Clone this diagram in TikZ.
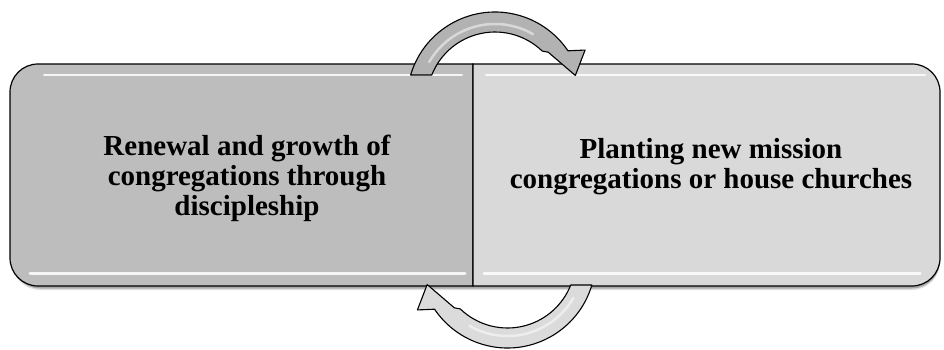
\documentclass[tikz,border=0pt]{standalone}
\usepackage{fontspec}
\setmainfont{Liberation Serif}
\definecolor{leftgray}{HTML}{BDBDBD}
\definecolor{rightgray}{HTML}{D9D9D9}

\begin{document}
\begin{tikzpicture}[x=1pt, y=1pt,
    boxline/.style={black, line width=1.2pt},
    gloss/.style={white, line width=3pt, opacity=0.85, line cap=round},
    boxtext/.style={align=center, font=\fontsize{29}{30}\selectfont\bfseries},
    arrowbody/.style={black, line width=1.1pt, line join=round}]
    \useasboundingbox (0,0) rectangle (944,349);
    % Shadow
    \foreach \dy/\op in {4/0.12, 2.5/0.25}
    \fill[black, opacity=\op] (12,100) -- (12,91-\dy)
      arc[start angle=180, end angle=270, radius=28] -- (912,63-\dy)
      arc[start angle=-90, end angle=0, radius=28] -- (940,100) -- cycle;
    % Left box
    \draw[boxline, fill=leftgray] (473,285) -- (38,285)
      arc[start angle=90, end angle=180, radius=28] -- (10,91)
      arc[start angle=180, end angle=270, radius=28] -- (473,63) -- cycle;
    % Right box
    \draw[boxline, fill=rightgray] (473,285) -- (912,285)
      arc[start angle=90, end angle=0, radius=28] -- (940,91)
      arc[start angle=0, end angle=-90, radius=28] -- (473,63) -- cycle;
    % Gloss
    \draw[gloss, line width=2pt] (44,274) -- (462,274);
    \draw[gloss, line width=2pt] (486,274) -- (925,274);
    \draw[gloss] (30,76) -- (465,76);
    \draw[gloss] (484,76) -- (920,76);
    % Texts
    \node[boxtext] (renewal) at (247,171)
      {Renewal and growth of\\congregations through\\discipleship};
    \node[boxtext] (planting) at (711,182)
      {Planting new mission\\congregations or house churches};
    % Cycle arrows
    \foreach \cx/\cy/\rot/\tone in {495/249/0/gray!60, 507.5/89/180/gray!28}
    {
      \begin{scope}[shift={(\cx,\cy)}, rotate=\rot]
        \draw[arrowbody, fill=\tone] (163.5:88)
          arc[start angle=163.5, end angle=34, radius=88]
          -- (29:103) -- (17:84) -- (42:71.5) -- (46:68)
          arc[start angle=46, end angle=158.4, radius=68] -- cycle;
        \draw[white, opacity=0.5, line width=2.5pt, line cap=round]
          (150:76) arc[start angle=150, end angle=60, radius=76];
      \end{scope}
    }
\end{tikzpicture}
\end{document}
